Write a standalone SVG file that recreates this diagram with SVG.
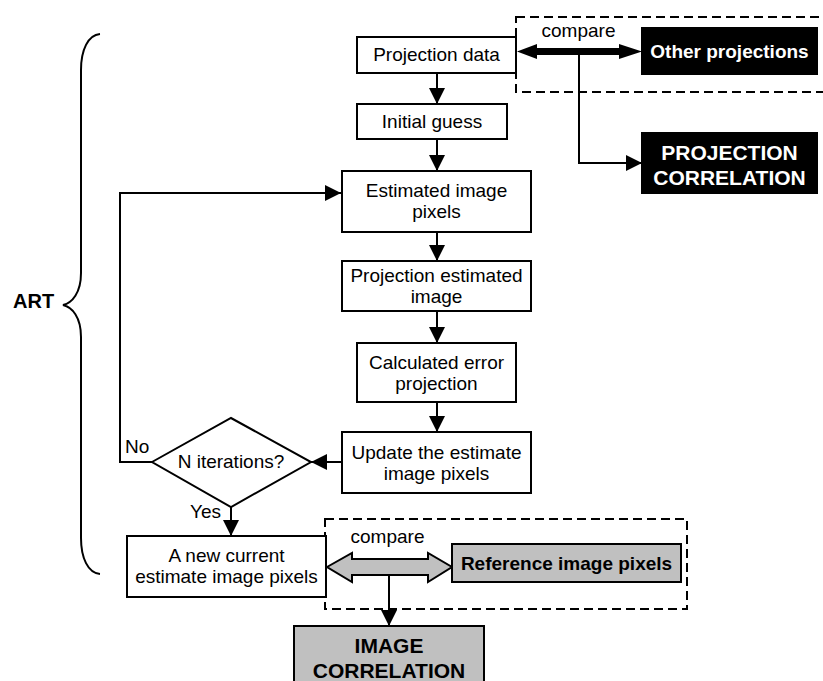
<svg xmlns="http://www.w3.org/2000/svg" width="823" height="681" viewBox="0 0 823 681">
<style>
text{font-family:"Liberation Sans",Arial,sans-serif;font-size:19px;fill:#000}
.b{font-weight:bold}
.w{fill:#fff}
.c{text-anchor:middle}
.box{fill:#fff;stroke:#000;stroke-width:2}
.blk{fill:#000;stroke:#000;stroke-width:2}
.gry{fill:#c0c0c0;stroke:#000;stroke-width:2}
.dash{fill:none;stroke:#000;stroke-width:2;stroke-dasharray:9 5}
.ln{fill:none;stroke:#000;stroke-width:2}
</style>
<defs>
<marker id="ah" markerUnits="userSpaceOnUse" markerWidth="16" markerHeight="16" refX="16" refY="8" orient="auto">
<path d="M0,0 L16,8 L0,16 z" fill="#000"/>
</marker>
</defs>
<rect width="823" height="681" fill="#fff"/>
<g id="groups">
<rect class="dash" x="516" y="17" width="320" height="75"/>
<rect class="dash" x="325" y="519" width="362" height="90"/>
<path class="ln" d="M100,34 C88,35 81,50 81,70 L81,273 C81,293 72,303 63,305 C72,307 81,317 81,337 L81,538 C81,558 88,573 100,574"/>
<text id="art" class="b" x="13" y="308" style="font-size:20px">ART</text>
</g>
<g id="connectors">
<line class="ln" x1="437" y1="73" x2="437" y2="104" marker-end="url(#ah)"/>
<line class="ln" x1="437" y1="139" x2="437" y2="171" marker-end="url(#ah)"/>
<line class="ln" x1="437" y1="232" x2="437" y2="261" marker-end="url(#ah)"/>
<line class="ln" x1="437" y1="311" x2="437" y2="343" marker-end="url(#ah)"/>
<line class="ln" x1="437" y1="402" x2="437" y2="432" marker-end="url(#ah)"/>
<line class="ln" x1="342" y1="462" x2="311" y2="462" marker-end="url(#ah)"/>
<polyline class="ln" points="152,462 120,462 120,193 341,193" marker-end="url(#ah)"/>
<line class="ln" x1="231" y1="507" x2="231" y2="536" marker-end="url(#ah)"/>
<polygon fill="#000" points="517,51.5 537,44 537,48 619,48 619,44 642,51.5 619,59 619,55 537,55 537,59"/>
<polyline class="ln" points="579,55 579,163 642,163" marker-end="url(#ah)"/>
<polygon class="gry" points="327,567 352,553 352,559 428,559 428,553 452,567 428,582 428,575 352,575 352,582"/>
<line class="ln" x1="389" y1="575" x2="389" y2="626" marker-end="url(#ah)"/>
<text x="578.5" y="37" class="c">compare</text>
<text x="387.5" y="543" class="c">compare</text>
<text x="125" y="453">No</text>
<text x="221" y="518" style="text-anchor:end">Yes</text>
</g>
<g id="n-projdata"><rect class="box" x="357" y="37" width="159" height="36"/><text class="c" x="436.5" y="61">Projection data</text></g>
<g id="n-initial"><rect class="box" x="357" y="104" width="150" height="35"/><text class="c" x="432" y="128">Initial guess</text></g>
<g id="n-estimated"><rect class="box" x="342" y="171" width="189" height="61"/><text class="c" x="436.5" y="197">Estimated image</text><text class="c" x="436.5" y="218">pixels</text></g>
<g id="n-projest"><rect class="box" x="342" y="261" width="189" height="50"/><text class="c" x="436.5" y="282">Projection estimated</text><text class="c" x="436.5" y="303">image</text></g>
<g id="n-calc"><rect class="box" x="357" y="343" width="159" height="59"/><text class="c" x="436.5" y="369">Calculated error</text><text class="c" x="436.5" y="390">projection</text></g>
<g id="n-update"><rect class="box" x="342" y="432" width="189" height="61"/><text class="c" x="436.5" y="459">Update the estimate</text><text class="c" x="436.5" y="480">image pixels</text></g>
<g id="n-decision"><polygon class="box" points="152,462 231,418 311,462 231,507"/><text class="c" x="231" y="468">N iterations?</text></g>
<g id="n-newcurrent"><rect class="box" x="127" y="536" width="199" height="61"/><text class="c" x="226.5" y="562">A new current</text><text class="c" x="226.5" y="583">estimate image pixels</text></g>
<g id="n-other"><rect class="blk" x="642" y="28" width="175" height="46"/><text class="b w c" x="729.5" y="58">Other projections</text></g>
<g id="n-projcorr"><rect class="blk" x="642" y="133" width="175" height="60"/><text class="b w c" x="729.5" y="160" style="font-size:21px">PROJECTION</text><text class="b w c" x="729.5" y="185" style="font-size:21px">CORRELATION</text></g>
<g id="n-refimg"><rect class="gry" x="452" y="544" width="229" height="38"/><text class="b c" x="566.5" y="570">Reference image pixels</text></g>
<g id="n-imgcorr"><rect class="gry" x="294" y="626" width="190" height="80"/><text class="b c" x="389" y="653" style="font-size:21px">IMAGE</text><text class="b c" x="389" y="678" style="font-size:21px">CORRELATION</text></g>
</svg>
